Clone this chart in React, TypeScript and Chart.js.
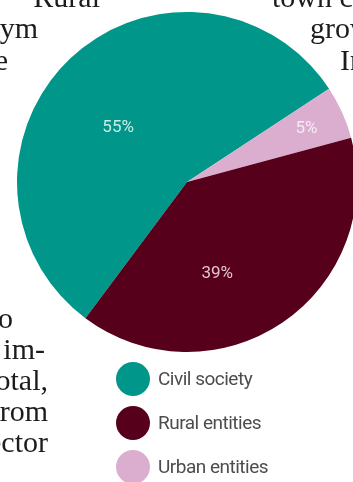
import React, { useEffect, useRef } from "react";
import { Chart, registerables } from "chart.js";

Chart.register(...registerables);

// ---- data ----
const categories = ["Civil society", "Urban entities", "Rural entities"];
const shares = [55, 5, 39];
const legendOrder = ["Civil society", "Rural entities", "Urban entities"];

// ---- styles ----
const sliceColors = ["#00968a", "#dbaed0", "#56001b"];
const labelColors = ["#c8ece6", "#f7eaf3", "#e3c3d1"];
const W = 374;
const H = 482;

const labelPlacement = [
  { frac: 0.515, shiftDeg: -8.6 },
  { frac: 0.77, shiftDeg: 0 },
  { frac: 0.57, shiftDeg: 16 },
];

const sliceLabelsPlugin = {
  id: "sliceLabels",
  afterDatasetsDraw(chart: any) {
    const ctx = chart.ctx;
    const meta = chart.getDatasetMeta(0);
    ctx.save();
    ctx.font = "400 17px Roboto";
    ctx.textAlign = "center";
    ctx.textBaseline = "middle";
    meta.data.forEach((arc: any, i: number) => {
      const p = arc.getProps(["x", "y", "startAngle", "endAngle", "outerRadius"], true);
      const mid = (p.startAngle + p.endAngle) / 2 + (labelPlacement[i].shiftDeg * Math.PI) / 180;
      const r = p.outerRadius * labelPlacement[i].frac;
      ctx.fillStyle = labelColors[i];
      ctx.fillText(`${shares[i]}%`, p.x + Math.cos(mid) * r, p.y + Math.sin(mid) * r);
    });
    ctx.restore();
  },
};

const legendPlugin = {
  id: "customLegend",
  afterDraw(chart: any) {
    const ctx = chart.ctx;
    const area = chart.chartArea;
    const cx = (area.left + area.right) / 2;
    ctx.save();
    legendOrder.forEach((name, k) => {
      const i = categories.indexOf(name);
      const y = area.bottom + 27 + k * 44;
      const x = cx - 54;
      ctx.beginPath();
      ctx.arc(x, y, 17, 0, Math.PI * 2);
      ctx.fillStyle = sliceColors[i];
      ctx.fill();
      ctx.fillStyle = "#4d4d4d";
      ctx.font = "19px Roboto";
      (ctx as any).letterSpacing = "-0.5px";
      ctx.textAlign = "left";
      ctx.textBaseline = "middle";
      ctx.fillText(name, x + 25, y + 1);
    });
    ctx.restore();
  },
};

function PieChart() {
  const ref = useRef<HTMLCanvasElement | null>(null);
  useEffect(() => {
    if (!ref.current) return;
    const chart = new Chart(ref.current, {
      type: "pie",
      data: {
        labels: categories,
        datasets: [
          {
            data: shares,
            backgroundColor: sliceColors,
            borderWidth: 0,
          },
        ],
      },
      options: {
        responsive: false,
        animation: false,
        rotation: 216.7,
        layout: { padding: { top: 12, left: 17, right: 17, bottom: 130 } },
        plugins: {
          legend: { display: false },
          tooltip: { enabled: false },
        },
      },
      plugins: [sliceLabelsPlugin, legendPlugin],
    });
    return () => chart.destroy();
  }, []);
  return (
    <canvas
      ref={ref}
      width={W}
      height={H}
      style={{ position: "absolute", left: 0, top: 0, width: W, height: H }}
    />
  );
}

const serif: React.CSSProperties = {
  position: "absolute",
  fontFamily: "'Liberation Serif', serif",
  fontSize: 30,
  lineHeight: "30px",
  color: "#1c1c1c",
  whiteSpace: "nowrap",
};

function Line({ text, baseline, left, right }: { text: string; baseline: number; left?: number; right?: number }) {
  const style: React.CSSProperties = { ...serif, top: baseline - 25 };
  if (left !== undefined) style.left = left;
  if (right !== undefined) style.right = 353 - right;
  return <div style={style}>{text}</div>;
}

export default function App() {
  return (
    <div
      style={{
        position: "fixed",
        left: 0,
        top: 0,
        width: 353,
        height: 482,
        overflow: "hidden",
        background: "#ffffff",
      }}
    >
      <PieChart />
      <Line text="Rural" baseline={7} right={100} />
      <Line text="ym" baseline={38} right={38} />
      <Line text="he" baseline={70} right={8} />
      <Line text="town c" baseline={7} left={272} />
      <Line text="grow" baseline={38} left={310} />
      <Line text="In" baseline={70} left={340} />
      <Line text="to" baseline={328} right={13} />
      <Line text="im-" baseline={359} right={45} />
      <Line text="total," baseline={390} right={48} />
      <Line text="from" baseline={421} right={48} />
      <Line text="ector" baseline={452} right={48} />
    </div>
  );
}
